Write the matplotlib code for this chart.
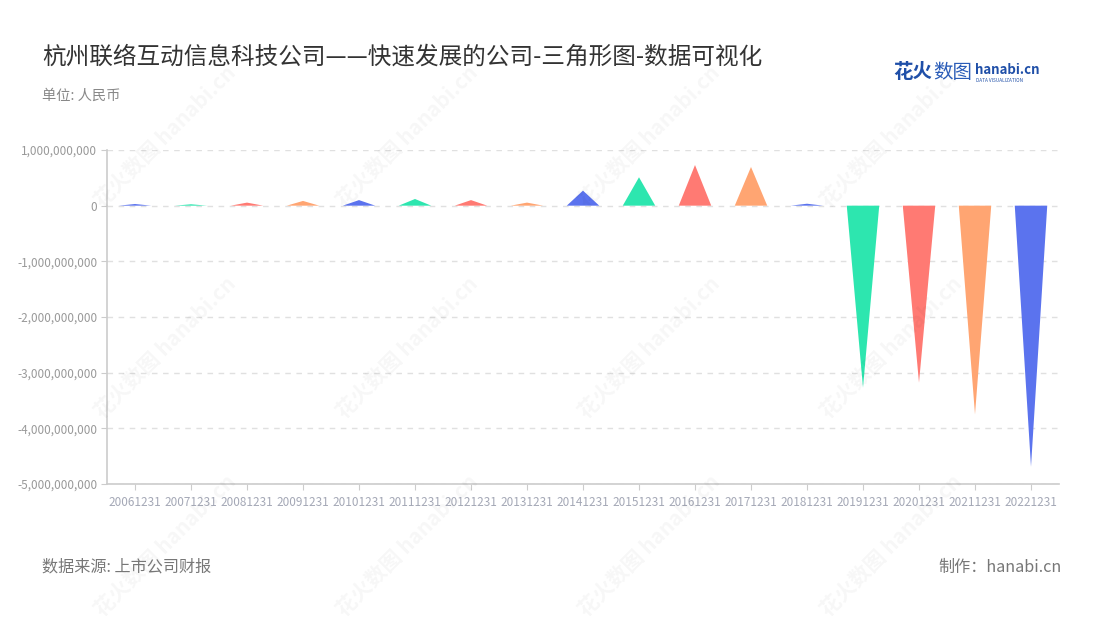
import numpy as np
import matplotlib
matplotlib.use("Agg")
import matplotlib.pyplot as plt
from matplotlib.ticker import FuncFormatter

plt.rcParams["font.family"] = ["Noto Sans CJK SC", "DejaVu Sans"]

# ──────────────────────────────────────────────────────────────────────────────
# DATA  (净利润, 人民币)
# ──────────────────────────────────────────────────────────────────────────────
periods = ["20061231", "20071231", "20081231", "20091231", "20101231",
           "20111231", "20121231", "20131231", "20141231", "20151231",
           "20161231", "20171231", "20181231", "20191231", "20201231",
           "20211231", "20221231"]
values = [30e6, 25e6, 55e6, 85e6, 100e6,
          120e6, 100e6, 55e6, 270e6, 510e6,
          730e6, 695e6, 35e6, -3.27e9, -3.18e9,
          -3.75e9, -4.69e9]
palette = ["#5B73EE", "#2DE6AF", "#FF7A73", "#FFA572"]

title = "杭州联络互动信息科技公司——快速发展的公司-三角形图-数据可视化"
unit_note = "单位: 人民币"
source_note = "数据来源: 上市公司财报"
credit_note = "制作：hanabi.cn"

# ──────────────────────────────────────────────────────────────────────────────
# FIGURE
# ──────────────────────────────────────────────────────────────────────────────
fig = plt.figure(figsize=(11, 6.2), dpi=100)
ax = fig.add_axes([107 / 1100, 1 - 484 / 620, 952 / 1100, 334 / 620])

half = 0.29
for i, v in enumerate(values):
    ax.fill([i - half, i, i + half], [0, v, 0],
            color=palette[i % len(palette)], lw=0, zorder=3)

ax.set_xlim(-0.5, len(periods) - 0.5)
ax.set_ylim(-5e9, 1e9)
ax.set_yticks(np.arange(-5e9, 1.01e9, 1e9))
ax.yaxis.set_major_formatter(FuncFormatter(lambda y, _: f"{int(round(y)):,}"))
ax.set_xticks(range(len(periods)))
ax.set_xticklabels(periods)

ax.grid(axis="y", color="#e0e0e0", linestyle=(0, (4, 4)), lw=1, zorder=0)
for s in ["top", "right"]:
    ax.spines[s].set_visible(False)
ax.spines["left"].set_color("#cccccc")
ax.spines["bottom"].set_color("#cccccc")
ax.spines["left"].set_linewidth(1.2)
ax.spines["bottom"].set_linewidth(1.2)
ax.tick_params(axis="y", length=4, color="#cccccc", labelsize=8.5,
               labelcolor="#999999", pad=3)
ax.tick_params(axis="x", length=4, color="#cccccc", labelsize=8.5,
               labelcolor="#a4a8b6", pad=5)

# watermarks
for wx in [0.15, 0.37, 0.59, 0.81]:
    for wy in [0.78, 0.44, 0.12]:
        fig.text(wx, wy, "花火数图 hanabi.cn", rotation=45, fontsize=15,
                 color="#000000", alpha=0.035, ha="center", va="center",
                 fontweight="bold", zorder=0)

# texts
fig.text(42 / 1100, 1 - 57 / 620, title, fontsize=17, color="#333333",
         ha="left", va="center")
fig.text(42 / 1100, 1 - 96 / 620, unit_note, fontsize=10.3, color="#888888",
         ha="left", va="center")
fig.text(42 / 1100, 1 - 567 / 620, source_note, fontsize=11.6, color="#777777",
         ha="left", va="center")
fig.text(1062 / 1100, 1 - 567 / 620, credit_note, fontsize=11.6, color="#777777",
         ha="right", va="center")

# logo
fig.text(893 / 1100, 1 - 73 / 620, "花火", fontsize=14, color="#1f4fa8",
         fontweight="bold", ha="left", va="center")
fig.text(933 / 1100, 1 - 73 / 620, "数图", fontsize=14, color="#2a5cb8",
         ha="left", va="center")
fig.text(975 / 1100, 1 - 70 / 620, "hanabi.cn", fontsize=9.5, color="#1f4fa8",
         fontweight="bold", ha="left", va="center")
fig.text(976 / 1100, 1 - 80 / 620, "DATA VISUALIZATION", fontsize=3.4,
         color="#1f4fa8", ha="left", va="center")

fig.savefig("out.png", dpi=100, facecolor="white")
